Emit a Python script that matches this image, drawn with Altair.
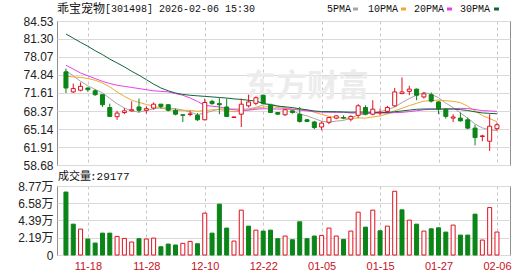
import altair as alt
import pandas as pd

# ---------------- data ----------------
dates = ["11-13", "11-14", "11-17", "11-18", "11-19", "11-20", "11-21", "11-24", "11-25", "11-26",
         "11-27", "11-28", "12-01", "12-02", "12-03", "12-04", "12-05", "12-08", "12-09", "12-10",
         "12-11", "12-12", "12-15", "12-16", "12-17", "12-18", "12-19", "12-22", "12-23", "12-24",
         "12-25", "12-26", "12-29", "12-30", "12-31", "01-05", "01-06", "01-07", "01-08", "01-09",
         "01-12", "01-13", "01-14", "01-15", "01-16", "01-19", "01-20", "01-21", "01-22", "01-23",
         "01-26", "01-27", "01-28", "01-29", "01-30", "02-02", "02-03", "02-04", "02-05", "02-06"]

opens = [75.4, 71.8, 72.1, 72.5, 72.0, 71.3, 69.0, 67.35, 68.1, 68.4,
         69.1, 68.5, 68.9, 69.6, 69.5, 68.5, 67.7, 67.75, 67.6, 66.8,
         70.1, 69.7, 69.1, 67.2, 67.8, 69.3, 69.75, 71.2, 69.4, 68.1,
         67.7, 68.4, 67.8, 66.8, 66.4, 65.5, 66.35, 67.1, 67.2, 66.9,
         67.6, 69.0, 67.8, 68.05, 68.3, 69.3, 71.5, 71.9, 72.3, 70.9,
         71.3, 70.0, 68.7, 67.1, 67.1, 66.8, 65.3, 63.8, 62.95, 65.2]
highs = [76.0, 73.3, 73.5, 72.6, 72.3, 71.4, 69.7, 68.4, 68.9, 70.1,
         70.6, 69.2, 69.9, 69.6, 69.6, 68.8, 67.7, 68.4, 68.0, 70.6,
         70.4, 70.7, 70.6, 67.4, 70.6, 71.3, 71.0, 71.3, 69.6, 68.1,
         68.7, 68.5, 69.1, 66.9, 66.6, 66.5, 67.3, 67.6, 67.6, 67.6,
         69.6, 69.4, 70.3, 68.8, 69.3, 72.5, 74.4, 72.9, 72.4, 71.8,
         71.7, 70.1, 68.9, 67.8, 68.1, 67.2, 65.9, 64.1, 67.8, 66.3]
lows = [71.6, 71.6, 71.9, 71.8, 71.1, 69.1, 67.3, 66.8, 67.8, 68.3,
        68.1, 67.9, 68.6, 68.8, 68.3, 67.6, 66.4, 67.4, 66.6, 66.7,
        69.5, 67.8, 67.3, 67.1, 65.5, 69.0, 69.4, 69.6, 68.0, 67.7,
        67.5, 67.9, 66.3, 66.4, 65.1, 64.9, 66.0, 66.9, 66.9, 66.5,
        67.1, 67.6, 67.6, 67.6, 68.0, 69.1, 71.4, 71.2, 70.3, 70.6,
        69.9, 67.8, 67.0, 66.4, 66.5, 65.1, 62.2, 62.95, 61.2, 64.9]
closes = [72.5, 72.4, 72.8, 72.2, 71.3, 69.5, 67.4, 68.0, 68.4, 68.6,
          68.5, 68.8, 69.6, 69.2, 68.5, 67.8, 67.6, 67.85, 66.8, 69.9,
          69.7, 69.5, 67.4, 67.3, 69.6, 70.0, 70.75, 69.7, 68.1, 67.8,
          68.6, 68.1, 66.5, 66.5, 65.4, 66.2, 67.2, 67.5, 67.1, 67.4,
          69.3, 67.8, 68.7, 68.15, 69.0, 71.8, 71.8, 72.3, 71.2, 71.45,
          70.15, 68.7, 67.4, 67.3, 66.6, 65.3, 63.6, 63.9, 65.65, 65.9]

# volume in units of 万 (10,000); last day 29177
volumes = [8.0, 3.92, 3.29, 2.03, 1.52, 2.78, 2.78, 2.36, 2.11, 1.65,
           2.07, 2.03, 2.15, 1.05, 1.39, 1.27, 1.48, 1.73, 1.43, 5.32,
           2.78, 6.46, 3.42, 1.77, 5.70, 3.67, 3.16, 3.04, 3.16, 2.07,
           2.41, 1.94, 4.22, 2.07, 2.41, 2.49, 3.42, 2.41, 1.98, 3.04,
           5.44, 3.54, 5.70, 3.08, 3.67, 8.1, 5.74, 4.43, 3.92, 3.04,
           3.33, 3.46, 2.91, 3.80, 2.53, 2.53, 5.19, 1.90, 6.03, 2.9177]
# volume bar colour as seen (1 = red hollow, 0 = green)
vol_up = [0, 0, 1, 0, 0, 0, 0, 1, 1, 1,
          0, 1, 1, 0, 0, 0, 1, 1, 0, 1,
          0, 0, 0, 1, 1, 0, 1, 0, 0, 0,
          1, 0, 0, 0, 0, 1, 1, 1, 0, 1,
          1, 0, 1, 0, 1, 1, 0, 1, 0, 1,
          0, 0, 0, 1, 0, 0, 0, 1, 1, 1]
last_volume = "29177"

ma5 = [75.6, 74.7, 73.7, 72.9, 72.24, 71.64, 70.64, 69.68, 68.92, 68.38,
       68.18, 68.46, 68.78, 68.94, 68.92, 68.78, 68.54, 68.19, 67.71, 67.99,
       68.37, 68.75, 68.66, 68.76, 68.70, 68.76, 69.01, 69.47, 69.63, 69.27,
       68.99, 68.46, 67.82, 67.50, 67.02, 66.54, 66.36, 66.56, 66.68, 67.08,
       67.70, 67.82, 68.06, 68.27, 68.59, 69.09, 69.89, 70.61, 71.22, 71.71,
       71.38, 70.76, 69.78, 69.00, 68.03, 67.06, 66.04, 65.34, 65.01, 64.87]
ma10 = [74.6, 74.5, 74.4, 74.2, 73.9, 73.4, 72.7, 71.8, 71.0, 70.31,
        69.91, 69.55, 69.23, 68.93, 68.65, 68.48, 68.50, 68.49, 68.33, 68.46,
        68.58, 68.65, 68.43, 68.24, 68.35, 68.57, 68.88, 69.07, 69.20, 68.99,
        68.88, 68.74, 68.65, 68.57, 68.15, 67.77, 67.41, 67.19, 67.09, 67.05,
        67.12, 67.09, 67.31, 67.48, 67.84, 68.40, 68.86, 69.34, 69.75, 70.15,
        70.24, 70.33, 70.20, 70.11, 69.87, 69.22, 68.40, 67.56, 67.01, 66.45]
ma20 = [76.6, 75.9, 75.2, 74.7, 74.2, 73.7, 73.3, 73.0, 72.8, 72.6,
        72.4, 72.2, 72.0, 71.9, 71.8, 71.5, 71.2, 70.7, 70.1, 69.38,
        69.24, 69.10, 68.83, 68.58, 68.50, 68.52, 68.69, 68.78, 68.76, 68.72,
        68.73, 68.69, 68.54, 68.40, 68.25, 68.17, 68.15, 68.13, 68.14, 68.02,
        68.00, 67.91, 67.98, 68.02, 67.99, 68.08, 68.13, 68.26, 68.42, 68.60,
        68.68, 68.71, 68.75, 68.79, 68.85, 68.81, 68.63, 68.45, 68.38, 68.30]
ma30 = [82.2, 81.45, 80.7, 80.0, 79.2, 78.5, 77.7, 77.0, 76.3, 75.5,
        74.8, 74.0, 73.2, 72.5, 72.0, 71.6, 71.35, 71.2, 71.1, 71.0,
        70.9, 70.8, 70.7, 70.55, 70.45, 70.3, 70.15, 69.75, 69.5, 69.25,
        69.12, 68.98, 68.77, 68.58, 68.38, 68.27, 68.26, 68.25, 68.20, 68.16,
        68.19, 68.16, 68.13, 68.09, 68.11, 68.24, 68.38, 68.53, 68.68, 68.73,
        68.74, 68.72, 68.72, 68.72, 68.62, 68.46, 68.22, 68.03, 67.95, 67.88]

tick_idx = [3, 11, 19, 27, 35, 43, 51, 59]
price_ticks = [58.68, 61.91, 65.14, 68.37, 71.61, 74.84, 78.07, 81.30, 84.53]
vol_ticks = [0, 2.19, 4.39, 6.58, 8.77]

ma_names = ["5PMA", "10PMA", "20PMA", "30PMA"]
ma_cols = ["ma5", "ma10", "ma20", "ma30"]
ma_colors = ["#a6a6a6", "#f0a830", "#e83ee8", "#11653a"]

title_name = "乖宝宠物"
title_rest = "[301498] 2026-02-06 15:30"

# ---------------- styling ----------------
RED = "#e0101e"
GREEN = "#0b8418"
XLAB = "#c8101c"
GRID_H = "#d9d9d9"
GRID_V = "#c6c6c6"
W = 453
HP = 144
HV = 69
XDOM = [-0.54, 60.1]

n = len(dates)
df = pd.DataFrame({
    "i": list(range(n)), "date": dates, "open": opens, "high": highs, "low": lows,
    "close": closes, "vol": volumes,
    "ma5": ma5, "ma10": ma10, "ma20": ma20, "ma30": ma30,
})
up = [c >= o for o, c in zip(opens, closes)]
df["cfill"] = ["#ffffff" if u else GREEN for u in up]
df["cstroke"] = [RED if u else GREEN for u in up]
df["vfill"] = ["#ffffff" if u else GREEN for u in vol_up]
df["vstroke"] = [RED if u else GREEN for u in vol_up]

label_js = "[" + ",".join("'" + d + "'" for d in dates) + "][datum.value]"

xscale = alt.Scale(domain=XDOM, nice=False, zero=False)
x_price = alt.X("i:Q", scale=xscale,
                axis=alt.Axis(values=tick_idx, labels=False, ticks=False, domain=False,
                              grid=True, gridColor=GRID_V, gridDash=[3, 3], title=None,
                              minExtent=0, maxExtent=0))
pscale = alt.Scale(domain=[58.68, 84.53], nice=False, zero=False)
p_axis = alt.Axis(values=price_ticks, format=".2f", ticks=False, domain=False, grid=True,
                  gridColor=GRID_H, labelFont="Liberation Sans", labelFontSize=12,
                  labelColor="#222222", labelPadding=4, title=None,
                  minExtent=40, maxExtent=40)

base = alt.Chart(df)

layers = []
# watermark
layers.append(
    alt.Chart(pd.DataFrame({"t": ["东方财富"]})).mark_text(
        font="Noto Sans CJK SC", fontSize=31, fontWeight="bold", color="#ececec",
        align="center", baseline="middle"
    ).encode(text="t:N", x=alt.value(250), y=alt.value(66))
)
# moving averages
for col, colr in zip(ma_cols, ma_colors):
    layers.append(
        base.mark_line(color=colr, strokeWidth=1).encode(
            x=x_price, y=alt.Y(col + ":Q", scale=pscale, axis=p_axis))
    )
# wicks
layers.append(
    base.mark_rule(strokeWidth=1).encode(
        x=x_price, y=alt.Y("low:Q", scale=pscale, axis=p_axis), y2="high:Q",
        color=alt.Color("cstroke:N", scale=None))
)
# bodies
layers.append(
    base.mark_bar(size=4, strokeWidth=1).encode(
        x=x_price, y=alt.Y("open:Q", scale=pscale, axis=p_axis), y2="close:Q",
        fill=alt.Fill("cfill:N", scale=None), stroke=alt.Stroke("cstroke:N", scale=None))
)
# header title
one = pd.DataFrame({"t": [0]})
layers.append(
    alt.Chart(pd.DataFrame({"t": [title_name]})).mark_text(
        font="Noto Sans CJK SC", fontSize=12, color="#111111", align="left", baseline="middle"
    ).encode(text="t:N", x=alt.value(0), y=alt.value(-12))
)
layers.append(
    alt.Chart(pd.DataFrame({"t": [title_rest]})).mark_text(
        font="Liberation Mono", fontSize=10, color="#111111", align="left", baseline="middle"
    ).encode(text="t:N", x=alt.value(48), y=alt.value(-12))
)
# legend (label followed by colour swatch)
leg_text_x = [270, 311, 357, 403]
leg_sw_x = [296, 344, 390, 437]
for name, colr, tx, sx in zip(ma_names, ma_colors, leg_text_x, leg_sw_x):
    layers.append(
        alt.Chart(pd.DataFrame({"t": [name]})).mark_text(
            font="Liberation Mono", fontSize=10, color="#111111", align="left", baseline="middle"
        ).encode(text="t:N", x=alt.value(tx), y=alt.value(-12))
    )
    layers.append(
        alt.Chart(one).mark_rule(color=colr, strokeWidth=3).encode(
            x=alt.value(sx), x2=alt.value(sx + 5), y=alt.value(-12))
    )

price = alt.layer(*layers).properties(width=W, height=HP)

# ---------------- volume panel ----------------
x_vol = alt.X("i:Q", scale=xscale,
              axis=alt.Axis(values=tick_idx, labelExpr=label_js, ticks=False, domain=False,
                            grid=True, gridColor=GRID_V, gridDash=[3, 3], title=None,
                            labelFont="Liberation Sans", labelFontSize=11, labelColor=XLAB,
                            labelPadding=5, labelFlush=False))
v_axis = alt.Axis(values=vol_ticks, ticks=False, domain=False, grid=True, gridColor=GRID_H,
                  labelExpr="datum.value == 0 ? '0' : format(datum.value, '.2f') + '万'",
                  labelFont="Liberation Sans, Noto Sans CJK SC", labelFontSize=12,
                  labelColor="#222222", labelPadding=4, title=None,
                  minExtent=40, maxExtent=40)
vbars = base.mark_bar(size=4, strokeWidth=1).encode(
    x=x_vol,
    y=alt.Y("vol:Q", scale=alt.Scale(domain=[0, 8.77], nice=False), axis=v_axis),
    fill=alt.Fill("vfill:N", scale=None), stroke=alt.Stroke("vstroke:N", scale=None))
vtitle1 = alt.Chart(pd.DataFrame({"t": ["成交量"]})).mark_text(
    font="Noto Sans CJK SC", fontSize=11, color="#111111", align="left", baseline="middle"
).encode(text="t:N", x=alt.value(1), y=alt.value(-9))
vtitle2 = alt.Chart(pd.DataFrame({"t": [":" + last_volume]})).mark_text(
    font="Liberation Mono", fontSize=11, color="#111111", align="left", baseline="middle"
).encode(text="t:N", x=alt.value(33), y=alt.value(-9))

volume = alt.layer(vbars, vtitle1, vtitle2).properties(width=W, height=HV)

chart = alt.vconcat(price, volume, spacing=21, bounds="flush").properties(
    padding={"left": 16, "top": 2, "right": 0, "bottom": 0},
    background="#ffffff",
).configure_view(stroke="#8f8f8f", strokeWidth=1)

chart.save("out.html", embed_options={"renderer": "svg", "actions": False})
